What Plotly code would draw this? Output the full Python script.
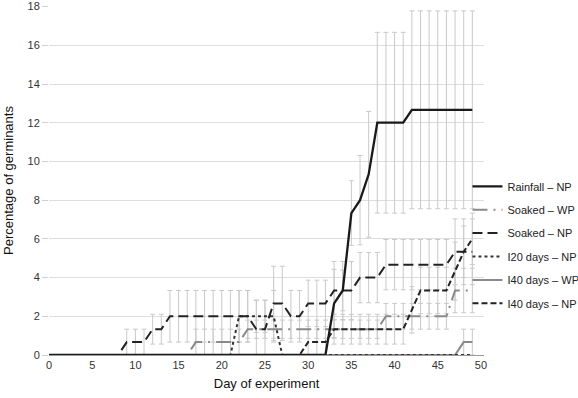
import plotly.graph_objects as go

days = list(range(0, 50))

# ---- series values (percentage of germinants) ----
rainfall_np = [0]*33 + [2.667, 3.333, 7.333, 8.0, 9.333] + [12.0]*4 + [12.667]*8
rainfall_np_err = [0]*33 + [1.76, 1.05, 1.67, 2.31, 3.25] + [4.67]*4 + [5.11]*8

soaked_wp = [0]*17 + [0.667]*6 + [1.333]*16 + [2.0]*8 + [3.333]*3
soaked_wp_err = [0]*17 + [0.667]*6 + [0.47]*16 + [0.667]*8 + [1.15]*3

soaked_np = ([0]*9 + [0.667]*3 + [1.333]*2 + [2.0]*10 + [1.333]*2 + [2.667]*2 + [2.0]*2
             + [2.667]*3 + [3.333]*3 + [4.0]*3 + [4.667]*8 + [5.333]*3)
soaked_np_err = ([0]*9 + [0.667]*3 + [0.77]*2 + [1.333]*10 + [1.5]*2 + [1.92]*2 + [1.333]*2
                 + [1.2]*3 + [1.5]*3 + [1.3]*3 + [1.3]*8 + [1.7]*3)

i20_np = [0]*22 + [2.0]*5 + [0]*23
i20_np_err = [0]*22 + [1.333, 1.333, 0.83, 0.83, 1.333] + [0]*23

i40_wp = [0]*48 + [0.667]*2
i40_wp_err = [0]*48 + [0.667]*2

i40_np = [0]*30 + [0.667]*3 + [1.333]*9 + [2.333] + [3.333]*4 + [4.333, 5.333, 6.0]
i40_np_err = [0]*30 + [0.667]*3 + [0.77]*9 + [1.2] + [1.2]*4 + [1.5, 1.33, 1.33]

x_ticks = list(range(0, 51, 5))
y_ticks = list(range(0, 19, 2))

series = [
    # name, values, errors, color, dash, width, legend rank
    ("I40 days – WP", i40_wp, i40_wp_err, "#8a8a8a", "solid", 2, 5),
    ("Soaked – WP", soaked_wp, soaked_wp_err, "#8a8a8a", "15px,6px,2px,6px", 2, 2),
    ("I20 days – NP", i20_np, i20_np_err, "#333333", "dot", 2, 4),
    ("I40 days – NP", i40_np, i40_np_err, "#222222", "6px,3px", 2, 6),
    ("Soaked – NP", soaked_np, soaked_np_err, "#222222", "10px,5px", 2, 3),
    ("Rainfall – NP", rainfall_np, rainfall_np_err, "#1a1a1a", "solid", 2.3, 1),
]

fig = go.Figure()

# error bars first (behind the lines)
for name, vals, errs, color, dash, w, rank in series:
    ex = [d for d, e in zip(days, errs) if e > 0]
    ey = [v for v, e in zip(vals, errs) if e > 0]
    ee = [e for e in errs if e > 0]
    fig.add_trace(go.Scatter(
        x=ex, y=ey, mode="markers",
        marker=dict(size=1, opacity=0),
        error_y=dict(type="data", array=ee, visible=True,
                     color="#c9c9c9", thickness=1, width=2.5),
        showlegend=False, hoverinfo="skip",
    ))

for name, vals, errs, color, dash, w, rank in series:
    fig.add_trace(go.Scatter(
        x=days, y=vals, mode="lines", name=name,
        line=dict(color=color, dash=dash, width=w),
        legendrank=rank, legendgroup=name, cliponaxis=False,
    ))

fig.update_layout(
    width=578, height=398,
    margin=dict(l=49, r=94, t=6, b=43, autoexpand=False),
    paper_bgcolor="white", plot_bgcolor="white",
    font=dict(family="Liberation Sans, Arial, sans-serif", size=11, color="#333333"),
    showlegend=True,
    legend=dict(
        x=0.962, xanchor="left", y=0.525, yanchor="top",
        font=dict(size=11, color="#222222"),
        bgcolor="rgba(0,0,0,0)", tracegroupgap=4.4,
        traceorder="grouped",
    ),
    xaxis=dict(
        range=[0, 50.35], tickvals=x_ticks, showgrid=False, zeroline=False,
        showline=True, linecolor="#9a9a9a", linewidth=1, ticks="",
        tickfont=dict(size=11, color="#333333"),
        title=dict(text="Day of experiment", font=dict(size=13, color="#111111"), standoff=8),
    ),
    yaxis=dict(
        range=[0, 18.03], tickvals=y_ticks, showgrid=True, gridcolor="#dddddd", gridwidth=1,
        zeroline=False, showline=False, ticks="outside", ticklen=6, tickcolor="#d0d0d0",
        tickfont=dict(size=11, color="#333333"),
        title=dict(text="Percentage of germinants", font=dict(size=13, color="#111111"), standoff=10),
    ),
)

fig.write_html("out.html", config={"displayModeBar": False},
               post_script="document.body.style.margin='0';")
